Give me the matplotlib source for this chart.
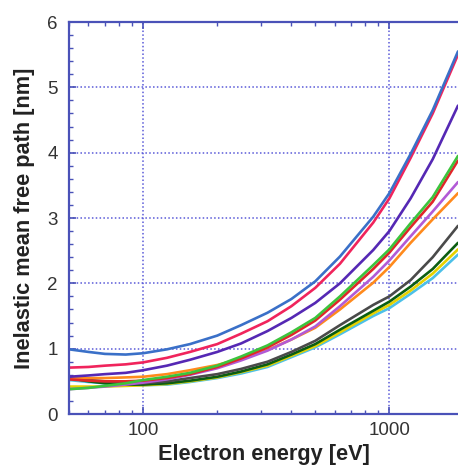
import numpy as np
import matplotlib
matplotlib.use("Agg")
import matplotlib.pyplot as plt
from matplotlib.ticker import FixedLocator, LogLocator, NullFormatter, MultipleLocator

plt.rcParams["font.family"] = ["Liberation Sans", "DejaVu Sans"]

energy = [50, 60, 70, 85, 100, 125, 155, 200, 250, 320, 400, 500, 630, 860, 1000, 1220, 1500, 1900]
blue =   [0.99, 0.95, 0.92, 0.91, 0.93, 0.99, 1.07, 1.20, 1.36, 1.55, 1.76, 2.03, 2.41, 3.02, 3.38, 3.98, 4.65, 5.55]
red =    [0.71, 0.72, 0.74, 0.76, 0.79, 0.86, 0.95, 1.07, 1.23, 1.42, 1.65, 1.93, 2.30, 2.93, 3.30, 3.92, 4.60, 5.50]
purple = [0.57, 0.59, 0.61, 0.63, 0.67, 0.74, 0.83, 0.95, 1.08, 1.27, 1.47, 1.70, 2.00, 2.51, 2.80, 3.30, 3.90, 4.72]
green =  [0.38, 0.40, 0.43, 0.47, 0.52, 0.57, 0.63, 0.74, 0.88, 1.05, 1.25, 1.47, 1.80, 2.28, 2.52, 2.92, 3.32, 3.95]
red2 =   [0.53, 0.51, 0.50, 0.50, 0.51, 0.55, 0.61, 0.72, 0.85, 1.02, 1.21, 1.43, 1.75, 2.22, 2.47, 2.86, 3.25, 3.88]
violet = [0.38, 0.40, 0.42, 0.45, 0.48, 0.53, 0.60, 0.70, 0.82, 0.97, 1.14, 1.34, 1.65, 2.10, 2.35, 2.72, 3.10, 3.55]
orange = [0.55, 0.55, 0.55, 0.56, 0.57, 0.61, 0.67, 0.75, 0.85, 0.98, 1.14, 1.32, 1.60, 2.01, 2.25, 2.62, 2.98, 3.38]
gray =   [0.56, 0.52, 0.50, 0.48, 0.47, 0.50, 0.55, 0.61, 0.69, 0.80, 0.95, 1.12, 1.36, 1.67, 1.80, 2.05, 2.40, 2.88]
dgreen = [0.55, 0.50, 0.47, 0.45, 0.45, 0.47, 0.51, 0.57, 0.65, 0.76, 0.91, 1.07, 1.29, 1.58, 1.72, 1.95, 2.22, 2.62]
yellow = [0.42, 0.42, 0.42, 0.43, 0.44, 0.46, 0.50, 0.56, 0.64, 0.74, 0.89, 1.04, 1.25, 1.54, 1.67, 1.89, 2.15, 2.52]
cyan =   [0.52, 0.49, 0.47, 0.45, 0.44, 0.45, 0.49, 0.55, 0.62, 0.72, 0.87, 1.02, 1.22, 1.50, 1.62, 1.84, 2.08, 2.44]

series = [
    (cyan, "#4cc0e8"),
    (yellow, "#e6d200"),
    (dgreen, "#0b5e12"),
    (gray, "#4a4a4a"),
    (orange, "#ff8a1c"),
    (violet, "#b25ad6"),
    (red2, "#e0262a"),
    (green, "#3cc43c"),
    (purple, "#5528b4"),
    (red, "#f0245c"),
    (blue, "#3a70c8"),
]

fig = plt.figure(figsize=(4.58, 4.69), dpi=100)
ax = fig.add_axes([69/458, 1-414/469, 1-69/458, (414-22)/469])

for vals, col in series:
    ax.plot(energy, vals, color=col, lw=1.9, solid_capstyle="round", solid_joinstyle="round")

ax.set_xscale("log")
ax.set_xlim(50, 1900)
ax.set_ylim(0, 6)

spine_col = "#4a52b8"
for s in ["left", "bottom", "top"]:
    ax.spines[s].set_color(spine_col)
    ax.spines[s].set_linewidth(1.6)
ax.spines["right"].set_visible(False)

ax.xaxis.set_major_locator(FixedLocator([100, 1000]))
ax.xaxis.set_minor_locator(LogLocator(base=10, subs=np.arange(2, 10)))
ax.xaxis.set_minor_formatter(NullFormatter())
ax.set_xticklabels(["100", "1000"])
ax.yaxis.set_major_locator(MultipleLocator(1))
ax.yaxis.set_minor_locator(MultipleLocator(0.2))

ax.tick_params(which="both", direction="in", top=True, right=False, color=spine_col,
               labelsize=13.5, labelcolor="#333333")
ax.tick_params(which="major", length=5, width=1.2)
ax.tick_params(which="minor", length=3, width=1.0)
ax.tick_params(axis="y", pad=8)
ax.tick_params(axis="x", pad=6)

ax.grid(True, which="major", linestyle=(0, (1, 1.5)), color="#5a5ad8", lw=1.1)
ax.set_axisbelow(True)

ax.set_xlabel("Electron energy [eV]", fontsize=15.7, fontweight="bold", color="#222222", labelpad=3)
ax.set_ylabel("Inelastic mean free path [nm]", fontsize=15.7, fontweight="bold", color="#222222", labelpad=9)

fig.savefig("out.png", dpi=100)
